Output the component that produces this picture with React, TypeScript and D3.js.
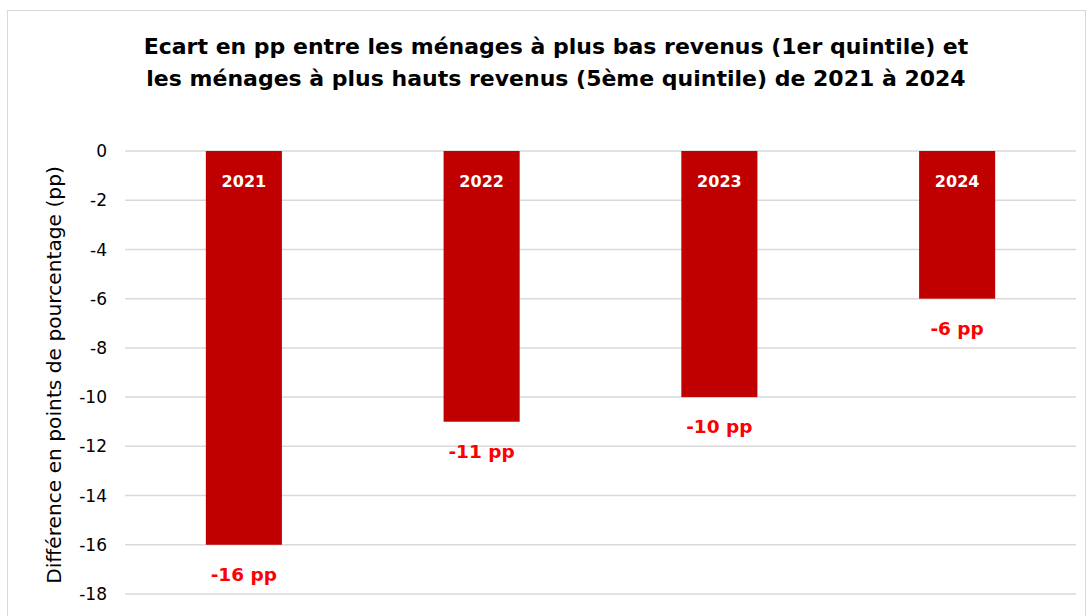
import React from "react";
import * as d3 from "d3";

const years = ["2021", "2022", "2023", "2024"];
const gaps = [-16, -11, -10, -6];
const yTicks = [0, -2, -4, -6, -8, -10, -12, -14, -16, -18];
const titleLines = [
  "Ecart en pp entre les ménages à plus bas revenus (1er quintile) et",
  "les ménages à plus hauts revenus (5ème quintile) de 2021 à 2024",
];
const yTitle = "Différence en points de pourcentage (pp)";

export default function App() {
  const W = 1092, H = 616;
  const left = 125, right = 1076, top = 151, bottom = 594;
  const x = d3.scaleBand<string>().domain(years).range([left, right]).paddingInner(0.68).paddingOuter(0.34);
  const y = d3.scaleLinear().domain([0, -18]).range([top, bottom]);
  const font = "Tahoma, 'DejaVu Sans', Verdana, sans-serif";
  return (
    <svg width={W} height={H} style={{ position: "absolute", left: 0, top: 0 }} fontFamily={font}>
      <rect x={0} y={0} width={W} height={H} fill="#fff" />
      <rect x={7.5} y={10.5} width={1078} height={620} fill="#fff" stroke="#d9d9d9" strokeWidth={1} />
      {titleLines.map((t, i) => (
        <text key={i} x={556} y={54 + i * 32} textAnchor="middle" fontWeight="bold" fontSize={22} fill="#000">
          {t}
        </text>
      ))}
      {yTicks.map((t) => (
        <g key={t}>
          <line x1={left} x2={right} y1={y(t)} y2={y(t)} stroke="#d9d9d9" strokeWidth={1.5} />
          <text x={107} y={y(t)} dy="0.36em" textAnchor="end" fontSize={17} fill="#000">
            {t}
          </text>
        </g>
      ))}
      <text transform={`translate(61,375) rotate(-90)`} textAnchor="middle" fontSize={20.2} fill="#000">
        {yTitle}
      </text>
      {years.map((yr, i) => {
        const bx = x(yr)!;
        const bw = x.bandwidth();
        return (
          <g key={yr}>
            <rect x={bx} y={y(0)} width={bw} height={y(gaps[i]) - y(0)} fill="#C00000" />
            <text x={bx + bw / 2} y={y(0) + 36} textAnchor="middle" fontWeight="bold" fontSize={16} fill="#fff">
              {yr}
            </text>
            <text x={bx + bw / 2} y={y(gaps[i]) + 36} textAnchor="middle" fontWeight="bold" fontSize={18.5} fill="#FF0000">
              {`${gaps[i]} pp`}
            </text>
          </g>
        );
      })}
    </svg>
  );
}
